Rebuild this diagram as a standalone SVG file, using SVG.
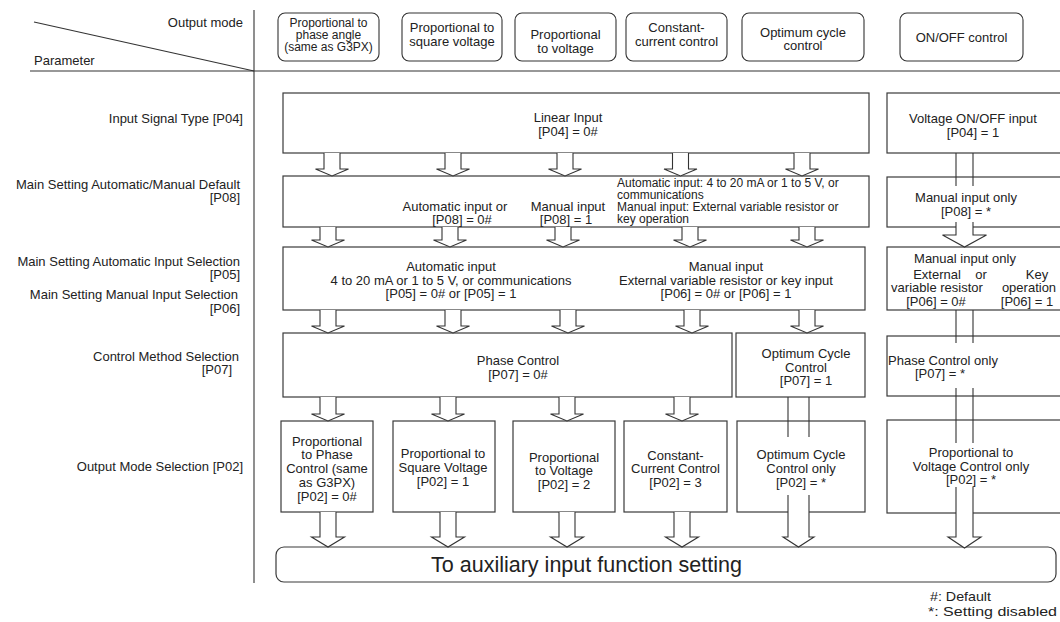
<svg xmlns="http://www.w3.org/2000/svg" width="1060" height="622" viewBox="0 0 1060 622">
<style>
text{font-family:"Liberation Sans",Arial,sans-serif;font-size:13px;fill:#222}
.m{text-anchor:middle}
.e{text-anchor:end}
.s12{font-size:12px}
.bx{fill:#fff;stroke:#3a3a3a;stroke-width:1.2}
.hd{fill:#fff;stroke:#333;stroke-width:1.1}
.ln{fill:none;stroke:#333;stroke-width:1.1}
.ar{fill:#fff;stroke:#333;stroke-width:1.1}
</style>
<rect width="1060" height="622" fill="#fff"/>
<g id="header">
<line class="ln" x1="34" y1="22" x2="254" y2="71"/>
<line class="ln" x1="30" y1="71" x2="1060" y2="71"/>
<line class="ln" x1="254" y1="10" x2="254" y2="583"/>
<text class="e" x="243" y="27">Output mode</text>
<text x="34" y="65">Parameter</text>
</g>
<g id="mode-phase-angle"><rect class="hd" x="278" y="13" width="101" height="48" rx="7"/>
<text class="m s12" x="328.5" y="27">Proportional to</text><text class="m s12" x="328.5" y="39">phase angle</text><text class="m s12" x="328.5" y="51">(same as G3PX)</text></g>
<g id="mode-square"><rect class="hd" x="402" y="13" width="100" height="48" rx="7"/>
<text class="m" x="452" y="32">Proportional to</text><text class="m" x="452" y="46">square voltage</text></g>
<g id="mode-voltage"><rect class="hd" x="515" y="13" width="101" height="48" rx="7"/>
<text class="m" x="565.5" y="39">Proportional</text><text class="m" x="565.5" y="53">to voltage</text></g>
<g id="mode-constant"><rect class="hd" x="626" y="13" width="101" height="48" rx="7"/>
<text class="m" x="676.5" y="31.5">Constant-</text><text class="m" x="676.5" y="46">current control</text></g>
<g id="mode-optimum"><rect class="hd" x="742" y="13" width="122" height="48" rx="7"/>
<text class="m" x="803" y="36.5">Optimum cycle</text><text class="m" x="803" y="50">control</text></g>
<g id="mode-onoff"><rect class="hd" x="900" y="13" width="123" height="48" rx="7"/>
<text class="m" x="961.5" y="42">ON/OFF control</text></g>

<g id="labels">
<text class="e" x="243" y="123">Input Signal Type [P04]</text>
<text class="e" x="240" y="189">Main Setting Automatic/Manual Default</text>
<text class="e" x="240" y="202">[P08]</text>
<text class="e" x="240" y="266">Main Setting Automatic Input Selection</text>
<text class="e" x="240" y="279">[P05]</text>
<text class="e" x="238" y="299">Main Setting Manual Input Selection</text>
<text class="e" x="240" y="313">[P06]</text>
<text class="e" x="239" y="361">Control Method Selection</text>
<text class="e" x="232" y="374">[P07]</text>
<text class="e" x="243" y="471">Output Mode Selection [P02]</text>
</g>

<g id="linear-input"><rect class="bx" x="283" y="93" width="586" height="60"/>
<text class="m" x="568" y="122">Linear Input</text><text class="m" x="568" y="135.5">[P04] = 0#</text></g>
<g id="voltage-onoff-input"><rect class="bx" x="887" y="93" width="180" height="60"/>
<text class="m" x="973" y="123">Voltage ON/OFF input</text><text class="m" x="973" y="137">[P04] = 1</text></g>

<g id="p08-select"><rect class="bx" x="283" y="176" width="586" height="51"/>
<text class="m" x="455" y="211">Automatic input or</text><text class="m" x="462" y="224">[P08] = 0#</text>
<text class="m" x="568" y="211">Manual input</text><text class="m" x="566" y="224">[P08] = 1</text>
<text class="s12" x="617" y="186.5">Automatic input: 4 to 20 mA or 1 to 5 V, or</text>
<text class="s12" x="617" y="198.5">communications</text>
<text class="s12" x="617" y="210.5">Manual input: External variable resistor or</text>
<text class="s12" x="617" y="222.5">key operation</text></g>
<g id="p08-manual-only"><rect class="bx" x="887" y="177" width="180" height="50"/>
<text class="m" x="966" y="201.5">Manual input only</text><text class="m" x="966" y="215.5">[P08] = *</text></g>

<g id="p05-p06-select"><rect class="bx" x="283" y="247" width="582" height="63"/>
<text class="m" x="451" y="271">Automatic input</text>
<text class="m" x="451" y="284.5">4 to 20 mA or 1 to 5 V, or communications</text>
<text class="m" x="451" y="298">[P05] = 0# or [P05] = 1</text>
<text class="m" x="726" y="271">Manual input</text>
<text class="m" x="726" y="284.5">External variable resistor or key input</text>
<text class="m" x="726" y="298">[P06] = 0# or [P06] = 1</text></g>
<g id="p06-manual-only"><rect class="bx" x="887" y="247" width="180" height="63"/>
<text class="m" x="965" y="263">Manual input only</text>
<text class="m" x="937" y="278.5">External</text><text class="m" x="981" y="278.5">or</text><text class="m" x="1037" y="278.5">Key</text>
<text class="m" x="937" y="292">variable resistor</text><text class="m" x="1029" y="292">operation</text>
<text class="m" x="936" y="305.5">[P06] = 0#</text><text class="m" x="1027" y="305.5">[P06] = 1</text></g>

<g id="phase-control"><rect class="bx" x="283" y="333" width="449" height="64"/>
<text class="m" x="518" y="365">Phase Control</text><text class="m" x="518" y="379">[P07] = 0#</text></g>
<g id="optimum-cycle-control"><rect class="bx" x="736" y="333" width="129" height="64"/>
<text class="m" x="806" y="357.5">Optimum Cycle</text><text class="m" x="806" y="371.5">Control</text><text class="m" x="806" y="385">[P07] = 1</text></g>
<g id="phase-control-only"><rect class="bx" x="887" y="336" width="180" height="60"/>
<text class="m" x="943" y="364.5">Phase Control only</text><text class="m" x="940" y="378">[P07] = *</text></g>

<g id="out-phase"><rect class="bx" x="281" y="421" width="92" height="91"/>
<text class="m" x="327" y="445.5">Proportional</text><text class="m" x="327" y="459">to Phase</text><text class="m" x="327" y="473">Control (same</text><text class="m" x="327" y="487">as G3PX)</text><text class="m" x="327" y="501">[P02] = 0#</text></g>
<g id="out-square"><rect class="bx" x="393" y="421" width="102" height="91"/>
<text class="m" x="443" y="457.5">Proportional to</text><text class="m" x="443" y="471.5">Square Voltage</text><text class="m" x="443" y="486">[P02] = 1</text></g>
<g id="out-voltage"><rect class="bx" x="513" y="421" width="102" height="91"/>
<text class="m" x="564" y="461.5">Proportional</text><text class="m" x="564" y="475">to Voltage</text><text class="m" x="564" y="489">[P02] = 2</text></g>
<g id="out-constant"><rect class="bx" x="624" y="421" width="103" height="91"/>
<text class="m" x="675.5" y="459.5">Constant-</text><text class="m" x="675.5" y="473">Current Control</text><text class="m" x="675.5" y="487">[P02] = 3</text></g>
<g id="out-optimum"><rect class="bx" x="737" y="421" width="128" height="91"/>
<text class="m" x="801" y="458.5">Optimum Cycle</text><text class="m" x="801" y="472.5">Control only</text><text class="m" x="801" y="486.5">[P02] = *</text></g>
<g id="out-voltage-only"><rect class="bx" x="887" y="420" width="180" height="93"/>
<text class="m" x="971" y="456.5">Proportional to</text><text class="m" x="971" y="470.5">Voltage Control only</text><text class="m" x="971" y="484">[P02] = *</text></g>

<g id="aux-setting"><rect class="bx" x="276" y="547" width="780" height="35" rx="8"/>
<text x="431" y="572" style="font-size:22px" textLength="311" lengthAdjust="spacingAndGlyphs">To auxiliary input function setting</text></g>

<g id="connectors">
<path class="ar" d="M324,153V169H315.5L332,176L348.5,169H340V153"/>
<path class="ar" d="M445,153V169H436.5L453,176L469.5,169H461V153"/>
<path class="ar" d="M557,153V169H548.5L565,176L581.5,169H573V153"/>
<path class="ar" d="M672.5,153V169H664L680.5,176L697,169H688.5V153"/>
<path class="ar" d="M794,153V169H785.5L802,176L818.5,169H810V153"/>

<path class="ar" d="M320,227V240H311.5L328,247L344.5,240H336V227"/>
<path class="ar" d="M442,227V240H433.5L450,247L466.5,240H458V227"/>
<path class="ar" d="M555,227V240H546.5L563,247L579.5,240H571V227"/>
<path class="ar" d="M682,227V240H673.5L690,247L706.5,240H698V227"/>
<path class="ar" d="M799,227V240H790.5L807,247L823.5,240H815V227"/>

<path class="ar" d="M320,310V326H311.5L328,333L344.5,326H336V310"/>
<path class="ar" d="M445,310V326H436.5L453,333L469.5,326H461V310"/>
<path class="ar" d="M560,310V326H551.5L568,333L584.5,326H576V310"/>
<path class="ar" d="M684,310V326H675.5L692,333L708.5,326H700V310"/>
<path class="ar" d="M799,310V326H790.5L807,333L823.5,326H815V310"/>

<path class="ar" d="M320,397V414H311.5L328,421L344.5,414H336V397"/>
<path class="ar" d="M440,397V414H431.5L448,421L464.5,414H456V397"/>
<path class="ar" d="M559,397V414H550.5L567,421L583.5,414H575V397"/>
<path class="ar" d="M674,397V414H665.5L682,421L698.5,414H690V397"/>

<path class="ar" d="M320,512V537H311.5L328,547L344.5,537H336V512"/>
<path class="ar" d="M440,512V537H431.5L448,547L464.5,537H456V512"/>
<path class="ar" d="M559,512V537H550.5L567,547L583.5,537H575V512"/>
<path class="ar" d="M674,512V537H665.5L682,547L698.5,537H690V512"/>

<path class="ln" d="M788,397V437M809,397V437"/>
<path class="ar" d="M788,495V537H783L798.5,547L814,537H809V495"/>

<path class="ln" d="M956,153V186M973,153V186"/>
<path class="ar" d="M956,222V235H942.5L964.5,247L986.5,235H973V222"/>
<path class="ln" d="M956,310V343M973,310V343"/>
<path class="ln" d="M956,388V443M973,388V443"/>
<path class="ar" d="M956,487V537H948L964.5,548L981,537H973V487"/>
</g>

<g id="legend">
<text x="930" y="601" style="font-size:13.5px" textLength="61" lengthAdjust="spacingAndGlyphs">#: Default</text>
<text x="928" y="616" style="font-size:13.5px" textLength="129" lengthAdjust="spacingAndGlyphs">*:  Setting disabled</text>
</g>
</svg>
